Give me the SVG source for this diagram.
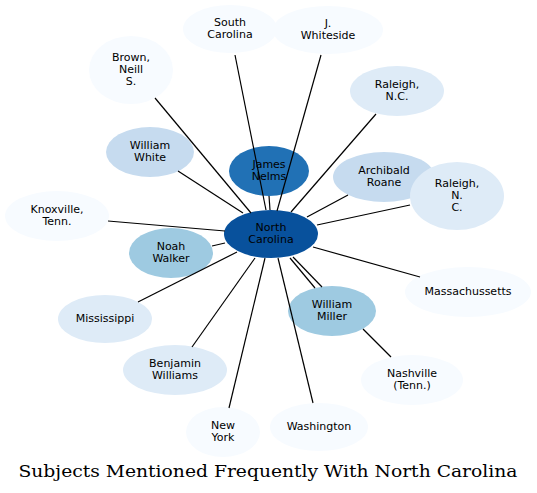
<svg xmlns="http://www.w3.org/2000/svg" width="537" height="493" viewBox="0 0 537 493">
<style>
  .n text { font-family: "DejaVu Sans", sans-serif; font-size: 11px; text-anchor: middle; fill: #000; }
  .c0 { fill: #f7fbff; }
  .c1 { fill: #deebf7; }
  .c2 { fill: #c6dbef; }
  .c3 { fill: #9ecae1; }
  .c5 { fill: #2171b5; }
  .c6 { fill: #08519c; }
  #edges line { stroke: #000; stroke-width: 1.2; }
  .title { font-family: "DejaVu Serif", serif; font-size: 17px; text-anchor: middle; fill: #000; }
</style>
<rect width="537" height="493" fill="#fff"/>
<g id="nodes" class="n">
  <g id="south-carolina"><ellipse class="c0" cx="230" cy="29" rx="47" ry="24"/><text x="230" y="26">South</text><text x="230" y="38">Carolina</text></g>
  <g id="j-whiteside"><ellipse class="c0" cx="328" cy="30" rx="55" ry="24"/><text x="328" y="27">J.</text><text x="328" y="39">Whiteside</text></g>
  <g id="brown-neill"><ellipse class="c0" cx="131" cy="70" rx="42" ry="34"/><text x="131" y="61">Brown,</text><text x="131" y="73">Neill</text><text x="131" y="85">S.</text></g>
  <g id="raleigh-nc"><ellipse class="c1" cx="397" cy="91" rx="47" ry="25"/><text x="397" y="88">Raleigh,</text><text x="397" y="100">N.C.</text></g>
  <g id="william-white"><ellipse class="c2" cx="150" cy="152" rx="44" ry="25"/><text x="150" y="149">William</text><text x="150" y="161">White</text></g>
  <g id="james-nelms"><ellipse class="c5" cx="269" cy="171" rx="40" ry="25"/><text x="269" y="168">James</text><text x="269" y="180">Nelms</text></g>
  <g id="archibald-roane"><ellipse class="c2" cx="384" cy="177" rx="51" ry="25"/><text x="384" y="174">Archibald</text><text x="384" y="186">Roane</text></g>
  <g id="raleigh-n-c"><ellipse class="c1" cx="457" cy="196" rx="47" ry="34"/><text x="457" y="187">Raleigh,</text><text x="457" y="199">N.</text><text x="457" y="211">C.</text></g>
  <g id="north-carolina"><ellipse class="c6" cx="271" cy="234" rx="47" ry="24"/><text x="271" y="231">North</text><text x="271" y="243">Carolina</text></g>
  <g id="knoxville"><ellipse class="c0" cx="57" cy="216" rx="52" ry="25"/><text x="57" y="213">Knoxville,</text><text x="57" y="225">Tenn.</text></g>
  <g id="noah-walker"><ellipse class="c3" cx="171" cy="253" rx="42" ry="25"/><text x="171" y="250">Noah</text><text x="171" y="262">Walker</text></g>
  <g id="mississippi"><ellipse class="c1" cx="105" cy="319" rx="47" ry="24"/><text x="105" y="322">Mississippi</text></g>
  <g id="william-miller"><ellipse class="c3" cx="332" cy="311" rx="44" ry="25"/><text x="332" y="308">William</text><text x="332" y="320">Miller</text></g>
  <g id="massachussetts"><ellipse class="c0" cx="468" cy="292" rx="63" ry="25"/><text x="468" y="295">Massachussetts</text></g>
  <g id="nashville"><ellipse class="c0" cx="412" cy="380" rx="51" ry="25"/><text x="412" y="377">Nashville</text><text x="412" y="389">(Tenn.)</text></g>
  <g id="benjamin-williams"><ellipse class="c1" cx="175" cy="370" rx="52" ry="25"/><text x="175" y="367">Benjamin</text><text x="175" y="379">Williams</text></g>
  <g id="new-york"><ellipse class="c0" cx="223" cy="432" rx="37" ry="25"/><text x="223" y="429">New</text><text x="223" y="441">York</text></g>
  <g id="washington"><ellipse class="c0" cx="319" cy="427" rx="49" ry="24"/><text x="319" y="430">Washington</text></g>
</g>
<g id="edges">
  <line x1="235" y1="55" x2="266" y2="210"/>
  <line x1="321" y1="55" x2="277" y2="211"/>
  <line x1="269" y1="196" x2="270" y2="210"/>
  <line x1="155" y1="98" x2="251" y2="213"/>
  <line x1="376" y1="114" x2="291" y2="212"/>
  <line x1="178" y1="171" x2="243" y2="213"/>
  <line x1="348" y1="195" x2="307" y2="217"/>
  <line x1="410" y1="205" x2="317" y2="225"/>
  <line x1="108" y1="221" x2="225" y2="231"/>
  <line x1="212" y1="246" x2="225" y2="243"/>
  <line x1="138" y1="302" x2="237" y2="252"/>
  <line x1="313" y1="247" x2="420" y2="277"/>
  <line x1="290" y1="258" x2="315" y2="288"/>
  <line x1="293" y1="257" x2="322" y2="287"/>
  <line x1="363" y1="329" x2="391" y2="357"/>
  <line x1="255" y1="258" x2="192" y2="347"/>
  <line x1="265" y1="258" x2="229" y2="408"/>
  <line x1="278" y1="258" x2="313" y2="403"/>
</g>
<text class="title" x="268" y="477" textLength="499" lengthAdjust="spacingAndGlyphs">Subjects Mentioned Frequently With North Carolina</text>
</svg>
